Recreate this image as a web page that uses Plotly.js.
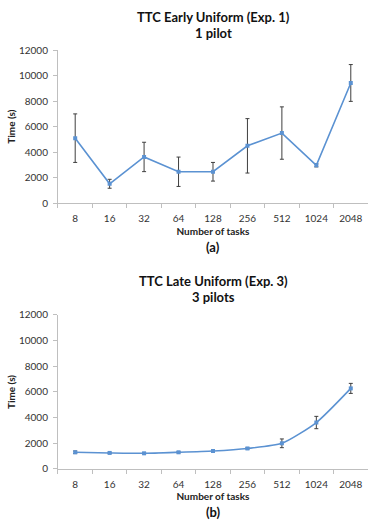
<!DOCTYPE html>
<html>
<head>
<meta charset="utf-8">
<script src="https://cdn.plot.ly/plotly-3.0.1.min.js"></script>
<style>
  html, body { margin: 0; padding: 0; background: #fff; }
  #chart { width: 374px; height: 527px; }
</style>
</head>
<body>
<div id="chart"></div>
<script>
// number of tasks (category axis)
const tasks = ['8', '16', '32', '64', '128', '256', '512', '1024', '2048'];

// (a) TTC Early Uniform, 1 pilot
const earlyTime = [5100, 1530, 3630, 2470, 2470, 4500, 5500, 2970, 9420];
const earlyErr  = [1900, 350, 1150, 1150, 730, 2130, 2050, 120, 1440];

// (b) TTC Late Uniform, 3 pilots
const lateTime = [1300, 1250, 1220, 1300, 1400, 1600, 2000, 3620, 6280];
const lateErr  = [100, 50, 40, 50, 50, 50, 340, 480, 390];

const yTicks = [0, 2000, 4000, 6000, 8000, 10000, 12000];

const blue = '#5b92d2';
const font = 'Lato, "Open Sans", sans-serif';

function series (y, err, xa, ya, shape) {
  return {
    type: 'scatter',
    mode: 'lines+markers',
    x: tasks,
    y: y,
    xaxis: xa,
    yaxis: ya,
    line: { color: blue, width: 1.6, shape: shape, smoothing: 0.6 },
    marker: { color: blue, size: 4, symbol: 'square' },
    error_y: {
      type: 'data',
      array: err,
      visible: true,
      color: '#3f3f3f',
      thickness: 1,
      width: 2
    },
    hoverinfo: 'x+y'
  };
}

function xAxis (anchor) {
  return {
    type: 'category',
    anchor: anchor,
    domain: [0.155, 0.984],
    range: [-0.5, 8.5],
    showline: true,
    linecolor: '#bfbfbf',
    linewidth: 1,
    ticks: 'outside',
    tickson: 'boundaries',
    ticklen: 4,
    tickcolor: '#bfbfbf',
    ticklabelstandoff: 6,
    showgrid: false,
    zeroline: false,
    tickfont: { family: font, size: 10, color: '#333' },
    title: {
      text: '<b>Number of tasks</b>',
      font: { family: font, size: 10, color: '#222' },
      standoff: 4
    }
  };
}

function yAxis (anchor, domain) {
  return {
    anchor: anchor,
    domain: domain,
    range: [0, 12000],
    tickvals: yTicks,
    tickformat: 'd',
    showline: true,
    linecolor: '#bfbfbf',
    linewidth: 1,
    ticks: 'outside',
    ticklen: 4,
    tickcolor: '#bfbfbf',
    ticklabelstandoff: 3,
    showgrid: false,
    zeroline: false,
    tickfont: { family: font, size: 10, color: '#333' },
    title: {
      text: '<b>Time (s)</b>',
      font: { family: font, size: 10, color: '#222' },
      standoff: 1
    }
  };
}

function label (text, y, size) {
  return {
    xref: 'paper', yref: 'paper',
    x: 0.57, y: y,
    xanchor: 'center', yanchor: 'middle',
    showarrow: false,
    text: text,
    font: { family: font, size: size, color: '#111' }
  };
}

const data = [
  series(earlyTime, earlyErr, 'x', 'y', 'linear'),
  series(lateTime, lateErr, 'x2', 'y2', 'spline')
];

const layout = {
  width: 374,
  height: 527,
  margin: { l: 0, r: 0, t: 0, b: 0 },
  paper_bgcolor: '#fff',
  plot_bgcolor: '#fff',
  showlegend: false,
  xaxis: xAxis('y'),
  yaxis: yAxis('x', [0.6142, 0.9051]),
  xaxis2: xAxis('y2'),
  yaxis2: yAxis('x2', [0.1101, 0.4023]),
  annotations: [
    label('<b>TTC Early Uniform (Exp. 1)</b>', 1 - 17 / 527, 13),
    label('<b>1 pilot</b>', 1 - 33 / 527, 13),
    label('<b>(a)</b>', 1 - 247 / 527, 13),
    label('<b>TTC Late Uniform (Exp. 3)</b>', 1 - 281 / 527, 13),
    label('<b>3 pilots</b>', 1 - 297 / 527, 13),
    label('<b>(b)</b>', 1 - 512 / 527, 13)
  ]
};

const config = { displayModeBar: false };

Plotly.newPlot('chart', data, layout, config);
</script>
</body>
</html>
